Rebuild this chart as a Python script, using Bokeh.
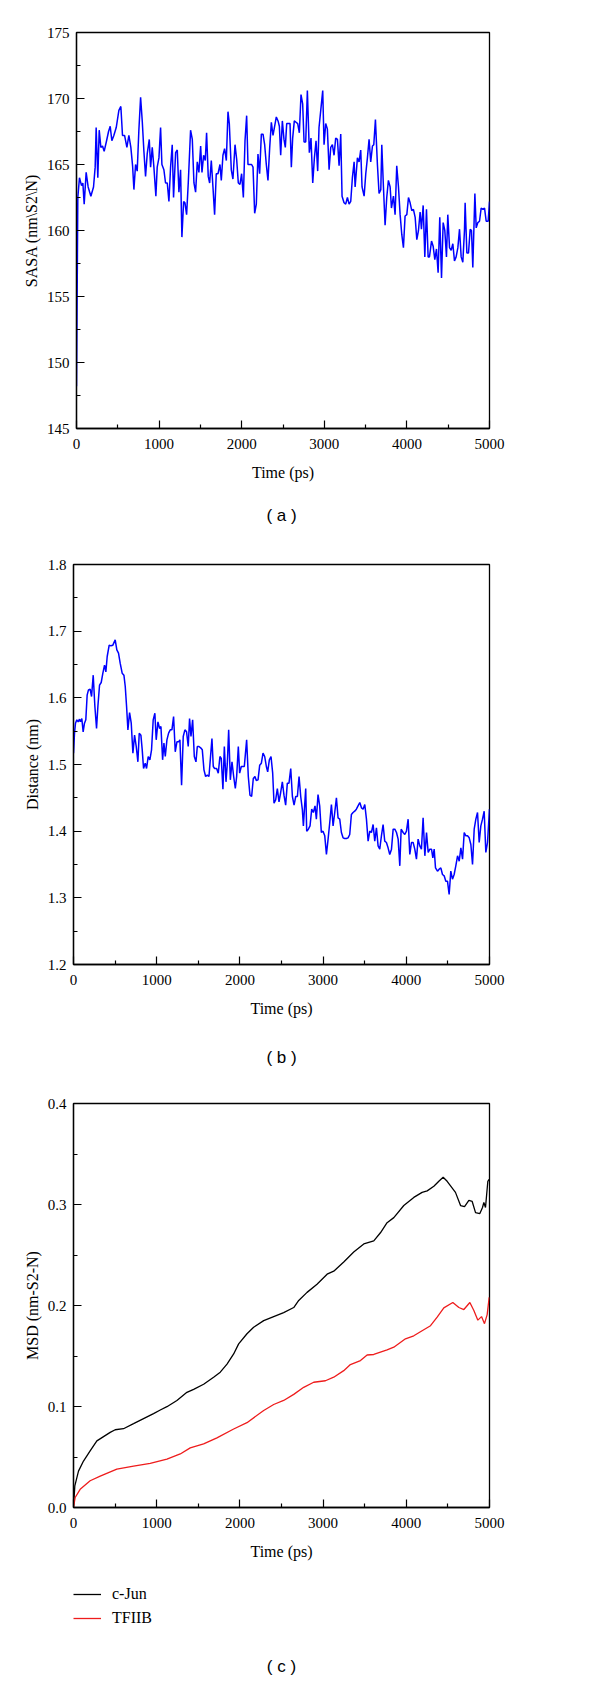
from bokeh.plotting import figure
from bokeh.layouts import column
from bokeh.models import Range1d, FixedTicker, PrintfTickFormatter, Legend, LegendItem, Label
from bokeh.embed import file_html
from bokeh.resources import INLINE

# ---------------- data ----------------
a_time = [0,16,36,61,77,93,117,141,174,206,226,238,258,275,295,315,335,364,388,408,428,452,481,513,537,557,582,610,634,658,679,695,715,735,755,776,796,816,836,856,881,897,917,937,961,977,998,1018,1034,1058,1078,1099,1119,1139,1159,1175,1200,1220,1240,1260,1276,1297,1313,1333,1353,1381,1402,1422,1442,1462,1482,1503,1519,1539,1559,1575,1595,1612,1632,1652,1672,1692,1713,1737,1753,1773,1793,1814,1834,1850,1874,1894,1919,1939,1959,1979,1999,2020,2040,2060,2076,2100,2120,2137,2157,2177,2197,2217,2238,2258,2278,2298,2318,2339,2359,2379,2399,2419,2440,2456,2472,2492,2512,2528,2545,2565,2585,2601,2617,2637,2658,2678,2698,2718,2738,2755,2775,2795,2819,2839,2860,2880,2900,2920,2936,2957,2981,2997,3017,3037,3058,3078,3098,3118,3138,3159,3179,3199,3215,3239,3259,3280,3300,3320,3340,3361,3373,3401,3421,3441,3457,3482,3502,3522,3542,3562,3583,3599,3619,3643,3663,3684,3696,3716,3736,3756,3776,3797,3813,3837,3857,3877,3898,3918,3938,3958,3978,3999,4019,4039,4059,4079,4100,4120,4140,4160,4176,4197,4217,4237,4257,4273,4298,4318,4338,4358,4378,4398,4419,4439,4459,4479,4495,4516,4536,4556,4576,4596,4617,4637,4657,4677,4697,4705,4726,4746,4766,4782,4798,4823,4839,4859,4879,4899,4920,4940,4960,4984,5000]
a_sasa = [148.2,162.5,164.0,163.4,163.6,162.0,164.4,163.3,162.6,163.3,164.8,167.8,164.0,167.6,166.3,166.4,166.0,166.8,167.5,167.9,166.8,167.2,167.8,169.1,169.4,167.2,167.2,166.3,167.2,166.3,164.9,163.1,165.0,164.5,167.6,170.1,168.3,166.0,164.1,165.8,166.9,164.8,166.3,164.8,162.6,164.8,165.5,167.8,165.0,164.6,163.6,163.6,162.2,164.8,166.5,162.5,165.9,166.1,162.9,164.6,159.5,162.2,162.1,161.2,163.6,167.6,166.9,163.6,162.9,165.2,164.4,166.4,164.4,165.7,165.3,167.4,164.1,163.6,165.3,163.3,161.2,164.3,164.3,165.0,163.8,165.7,166.2,165.3,169.0,168.1,164.6,163.9,166.5,165.4,163.6,163.5,164.3,162.5,166.8,168.7,165.0,165.0,165.0,164.8,161.3,162.0,165.8,164.3,167.3,167.3,166.5,165.0,163.8,166.3,168.2,167.2,167.9,168.6,168.3,167.9,165.7,168.3,166.9,166.3,168.1,168.1,168.1,164.8,167.0,168.3,168.2,168.1,167.4,170.3,169.6,166.7,166.7,170.6,165.9,167.0,163.6,165.5,166.8,164.5,167.8,169.1,170.6,166.5,168.1,167.7,164.6,166.3,166.5,165.7,167.0,166.9,164.9,167.3,162.6,162.1,162.0,162.5,162.0,162.2,164.0,165.2,163.3,165.5,165.2,166.1,163.3,162.6,164.3,165.5,166.9,165.2,166.4,166.5,168.4,165.0,162.8,163.1,166.5,163.3,160.4,162.5,163.8,163.3,161.7,162.6,161.2,164.9,163.3,161.2,159.7,158.7,161.1,161.2,162.5,162.1,161.5,161.6,161.0,159.3,160.0,161.4,160.1,161.9,158.0,161.6,158.0,158.0,159.2,158.8,157.8,158.6,156.8,161.0,156.4,160.6,160.0,158.0,161.2,158.7,158.5,159.0,157.7,158.0,158.7,160.1,158.0,157.6,160.0,162.1,158.3,158.3,160.1,160.0,157.2,162.8,160.2,160.6,160.7,161.7,161.6,161.7,160.7,160.7,162.2]

b_time = [0,12,24,40,56,72,84,100,116,132,148,164,180,200,217,237,257,277,293,313,333,353,373,389,405,429,449,473,501,521,541,561,585,606,622,638,654,674,694,714,734,754,774,790,810,826,842,862,878,898,918,938,958,978,994,1015,1035,1051,1071,1087,1103,1123,1143,1163,1183,1203,1223,1243,1263,1279,1299,1319,1339,1359,1379,1395,1412,1432,1452,1472,1488,1508,1528,1548,1568,1588,1608,1628,1644,1664,1680,1696,1720,1740,1760,1776,1796,1813,1833,1849,1865,1885,1905,1925,1945,1961,1981,1997,2017,2037,2053,2081,2101,2121,2141,2161,2181,2197,2218,2238,2258,2278,2298,2318,2334,2354,2374,2394,2410,2430,2450,2470,2490,2510,2530,2550,2570,2590,2611,2631,2651,2671,2691,2711,2731,2751,2763,2791,2803,2823,2843,2863,2883,2903,2919,2939,2959,2979,2999,3020,3040,3060,3080,3100,3120,3140,3160,3180,3200,3220,3240,3260,3280,3300,3320,3340,3360,3380,3400,3420,3441,3461,3481,3501,3521,3541,3561,3581,3601,3621,3641,3661,3681,3701,3721,3741,3761,3781,3801,3822,3842,3862,3882,3902,3922,3938,3962,3982,4002,4022,4042,4062,4082,4102,4122,4142,4162,4182,4202,4223,4243,4263,4283,4303,4319,4335,4351,4375,4395,4415,4435,4455,4475,4495,4515,4535,4555,4575,4595,4616,4636,4656,4676,4696,4716,4736,4756,4776,4796,4816,4836,4856,4876,4896,4916,4936,4956,4976,5000]
b_dist = [1.517,1.547,1.562,1.567,1.564,1.568,1.564,1.569,1.549,1.562,1.567,1.604,1.612,1.613,1.602,1.634,1.587,1.554,1.587,1.619,1.623,1.637,1.649,1.639,1.662,1.679,1.678,1.679,1.687,1.672,1.667,1.652,1.637,1.634,1.617,1.587,1.552,1.578,1.562,1.517,1.544,1.527,1.504,1.547,1.544,1.522,1.494,1.502,1.494,1.512,1.507,1.522,1.567,1.577,1.537,1.564,1.554,1.557,1.507,1.532,1.512,1.537,1.547,1.552,1.552,1.572,1.519,1.534,1.534,1.537,1.469,1.542,1.552,1.549,1.527,1.569,1.542,1.567,1.512,1.504,1.527,1.527,1.525,1.522,1.492,1.482,1.484,1.482,1.507,1.539,1.497,1.494,1.494,1.487,1.512,1.509,1.463,1.527,1.474,1.502,1.552,1.477,1.504,1.482,1.464,1.482,1.527,1.487,1.497,1.497,1.497,1.537,1.482,1.454,1.452,1.479,1.482,1.476,1.477,1.499,1.502,1.517,1.512,1.497,1.489,1.507,1.512,1.487,1.442,1.447,1.464,1.444,1.458,1.474,1.454,1.439,1.472,1.472,1.494,1.452,1.439,1.452,1.452,1.482,1.452,1.432,1.408,1.464,1.400,1.403,1.408,1.433,1.428,1.438,1.418,1.455,1.438,1.398,1.400,1.393,1.365,1.388,1.413,1.440,1.408,1.428,1.450,1.420,1.418,1.398,1.390,1.389,1.389,1.390,1.395,1.425,1.428,1.430,1.433,1.438,1.443,1.435,1.433,1.440,1.418,1.385,1.400,1.398,1.410,1.385,1.405,1.378,1.373,1.393,1.410,1.385,1.383,1.375,1.365,1.373,1.403,1.403,1.398,1.388,1.348,1.403,1.398,1.395,1.400,1.418,1.365,1.383,1.383,1.373,1.358,1.388,1.378,1.373,1.420,1.363,1.398,1.368,1.373,1.373,1.360,1.373,1.345,1.340,1.343,1.345,1.335,1.333,1.325,1.325,1.305,1.340,1.328,1.335,1.348,1.363,1.355,1.375,1.358,1.398,1.393,1.393,1.390,1.380,1.350,1.403,1.418,1.428,1.383,1.408,1.418,1.430,1.368,1.383,1.433]

c_time_jun = [0,16,60,120,200,281,441,501,601,722,842,962,1043,1123,1243,1363,1444,1564,1684,1764,1845,1925,1985,2085,2165,2286,2406,2526,2647,2707,2807,2927,3048,3128,3248,3368,3489,3609,3689,3769,3850,3970,4090,4190,4251,4331,4391,4443,4491,4591,4652,4700,4752,4792,4832,4884,4916,4932,4952,4980,4996]
c_jun = [0,0.0215,0.036,0.046,0.056,0.066,0.0744,0.077,0.078,0.083,0.088,0.093,0.0965,0.0998,0.106,0.114,0.117,0.122,0.129,0.134,0.142,0.152,0.162,0.172,0.1785,0.185,0.189,0.193,0.198,0.205,0.213,0.221,0.231,0.234,0.243,0.253,0.261,0.264,0.272,0.282,0.287,0.299,0.307,0.312,0.3135,0.318,0.323,0.327,0.323,0.312,0.299,0.298,0.304,0.303,0.292,0.291,0.297,0.302,0.297,0.323,0.325]
c_time_tf = [0,20,80,200,321,521,722,922,1123,1283,1403,1564,1724,1925,2085,2286,2406,2526,2647,2767,2887,3028,3128,3248,3328,3449,3529,3609,3769,3850,3990,4090,4190,4291,4371,4451,4559,4632,4692,4764,4812,4860,4904,4940,4972,4996]
c_tf = [0,0.0099,0.018,0.0265,0.031,0.038,0.041,0.0436,0.048,0.053,0.059,0.063,0.069,0.0777,0.084,0.096,0.102,0.106,0.112,0.119,0.124,0.1255,0.129,0.1355,0.1415,0.1455,0.151,0.1515,0.156,0.1587,0.167,0.170,0.175,0.180,0.1884,0.1977,0.203,0.198,0.196,0.203,0.195,0.1855,0.189,0.182,0.191,0.208]

x_major = [0, 1000, 2000, 3000, 4000, 5000]
x_minor = [500, 1500, 2500, 3500, 4500]
a_major = [145, 150, 155, 160, 165, 170, 175]
a_minor = [147.5, 152.5, 157.5, 162.5, 167.5, 172.5]
b_major = [1.2, 1.3, 1.4, 1.5, 1.6, 1.7, 1.8]
b_minor = [1.25, 1.35, 1.45, 1.55, 1.65, 1.75]
c_major = [0.0, 0.1, 0.2, 0.3, 0.4]
c_minor = [0.05, 0.15, 0.25, 0.35]
legend_labels = ["c-Jun", "TFIIB"]
line_colors = ["black", "#ee1c1c"]
captions = ["( a )", "( b )", "( c )"]

assert len(a_time) == len(a_sasa), (len(a_time), len(a_sasa))
assert len(b_time) == len(b_dist), (len(b_time), len(b_dist))

SERIF = "Liberation Serif"
SANS = "Liberation Sans"
W = 600
CAP_X = 281  # page x of caption centres


def make_fig(height, ylo, yhi, ymaj, ymin, ylabel, left, top, bottom, fmt=None):
    p = figure(width=W, height=height, x_range=Range1d(0, 5000), y_range=Range1d(ylo, yhi),
               output_backend="svg", toolbar_location=None,
               min_border_left=left, min_border_right=111,
               min_border_top=top, min_border_bottom=bottom)
    p.xgrid.visible = False
    p.ygrid.visible = False
    p.outline_line_color = "black"
    p.outline_line_width = 1.3
    p.outline_line_alpha = 1.0
    p.background_fill_color = "white"
    p.border_fill_color = "white"
    p.xaxis.ticker = FixedTicker(ticks=x_major, minor_ticks=x_minor)
    p.yaxis.ticker = FixedTicker(ticks=ymaj, minor_ticks=ymin)
    if fmt:
        p.yaxis.formatter = PrintfTickFormatter(format=fmt)
    for ax in (p.xaxis, p.yaxis):
        ax.axis_line_color = "black"
        ax.axis_line_width = 1.3
        ax.major_tick_in = 8
        ax.major_tick_out = 0
        ax.minor_tick_in = 4
        ax.minor_tick_out = 0
        ax.major_tick_line_color = "black"
        ax.minor_tick_line_color = "black"
        ax.major_tick_line_width = 1.2
        ax.minor_tick_line_width = 1.2
        ax.major_label_text_font = SERIF
        ax.major_label_text_font_size = "15px"
        ax.major_label_text_color = "black"
        ax.axis_label_text_font = SERIF
        ax.axis_label_text_font_size = "16px"
        ax.axis_label_text_font_style = "normal"
        ax.axis_label_text_color = "black"
    p.xaxis.axis_label = "Time (ps)"
    p.yaxis.axis_label = ylabel
    p.xaxis.major_label_standoff = 10
    p.yaxis.major_label_standoff = 7
    p.xaxis.axis_label_standoff = 12
    p.yaxis.axis_label_standoff = 4
    return p


def strip(height, text, cap_y, left=73):
    s = figure(width=W, height=height, x_range=Range1d(0, 1), y_range=Range1d(0, 1),
               output_backend="svg", toolbar_location=None, x_axis_type=None, y_axis_type=None,
               min_border_left=left, min_border_right=0, min_border_top=0, min_border_bottom=0)
    s.xgrid.visible = False
    s.ygrid.visible = False
    s.outline_line_color = None
    s.add_layout(Label(x=CAP_X - left, y=cap_y, x_units="screen", y_units="screen", text=text,
                       text_align="center", text_baseline="middle", text_font=SANS,
                       text_font_size="17px", text_color="black"))
    return s


# (a)
pa = make_fig(490, 145, 175, a_major, a_minor, r"SASA (nm\S2\N)", 76, 32, 62)
pa.line(a_time, a_sasa, line_color="#0000ff", line_width=1.5)
sa = strip(50, captions[0], 25)

# (b)
pb = make_fig(490, 1.2, 1.8, b_major, b_minor, "Distance (nm)", 73, 24, 66, "%.1f")
pb.line(b_time, b_dist, line_color="#0000ff", line_width=1.5)
sb = strip(50, captions[1], 23)

# (c)
pc = make_fig(492, 0.0, 0.4, c_major, c_minor, "MSD (nm-S2-N)", 73, 23, 65, "%.1f")
pc.line(c_time_jun, c_jun, line_color=line_colors[0], line_width=1.3)
pc.line(c_time_tf, c_tf, line_color=line_colors[1], line_width=1.3)

# legend + caption strip under (c)
pl = strip(109, captions[2], 15)
pl.x_range = Range1d(0, 5000)
pl.y_range = Range1d(0.0, 0.4)
l1 = pl.line(c_time_jun, c_jun, line_color=line_colors[0], line_width=1.3, visible=False)
l2 = pl.line(c_time_tf, c_tf, line_color=line_colors[1], line_width=1.3, visible=False)
legend = Legend(items=[LegendItem(label=legend_labels[0], renderers=[l1]),
                       LegendItem(label=legend_labels[1], renderers=[l2])],
                location=(0, 53), orientation="vertical", border_line_alpha=0,
                background_fill_alpha=0, padding=0, margin=0, spacing=4,
                glyph_width=28, glyph_height=20, label_height=20, label_standoff=11,
                inactive_fill_alpha=0,
                label_text_font=SERIF, label_text_font_size="16px", label_text_color="black")
pl.add_layout(legend, "center")

layout = column(column(pa), column(sa), column(pb), column(sb), column(pc), column(pl), spacing=0)
open("out.html", "w").write(file_html(layout, INLINE))
